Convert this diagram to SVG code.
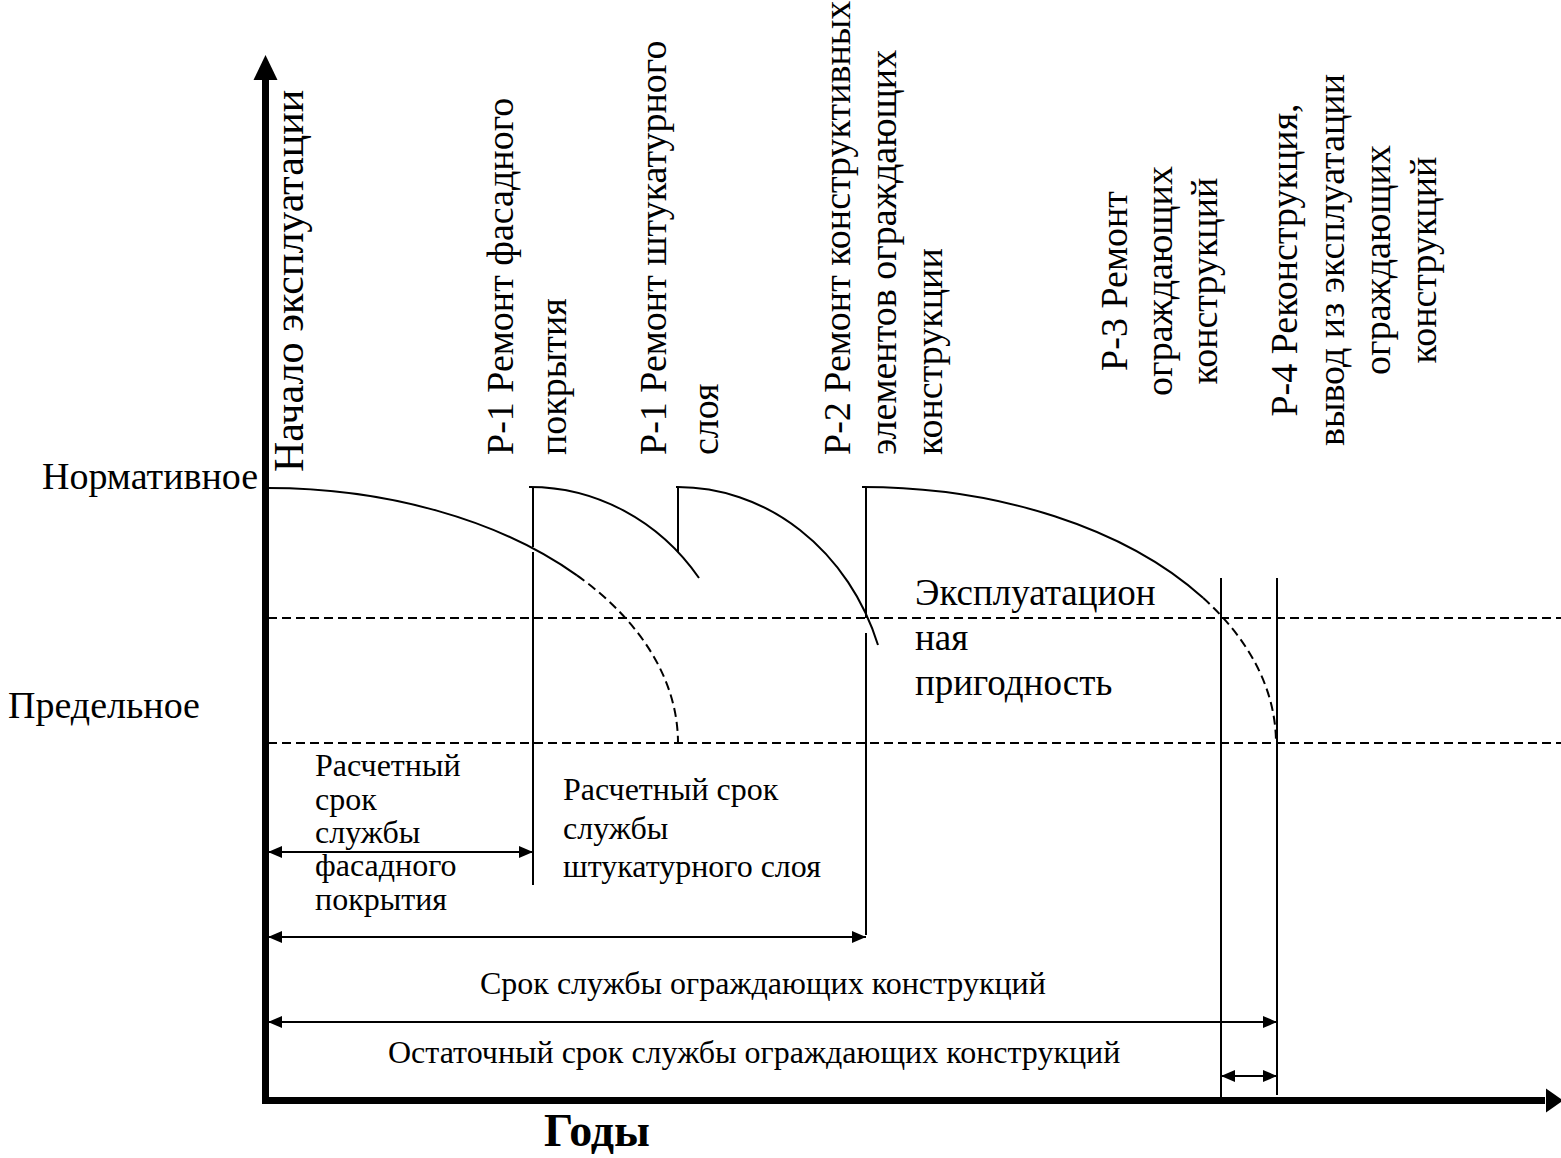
<svg xmlns="http://www.w3.org/2000/svg" width="1561" height="1158" viewBox="0 0 1561 1158">
<defs>
<style>
.t{font-family:"Liberation Serif","Times New Roman",serif;fill:#000}
.lbl{font-size:38px}
.big{font-size:42px}
.sm{font-size:32px}
.ln{stroke:#000;stroke-width:2;fill:none}
.dash{stroke:#000;stroke-width:2;fill:none;stroke-dasharray:9 5}
.axis{stroke:#000;stroke-width:7;fill:none}
.dim{stroke:#000;stroke-width:2;fill:none;marker-start:url(#ah);marker-end:url(#ah)}
</style>
<marker id="ah" viewBox="0 0 14 12" refX="14" refY="6" markerWidth="14" markerHeight="12" markerUnits="userSpaceOnUse" orient="auto-start-reverse">
<path d="M0,0 L14,6 L0,12 Z" fill="#000"/>
</marker>
</defs>
<rect width="1561" height="1158" fill="#fff"/>

<g id="axes">
<line class="axis" x1="265.5" y1="1103" x2="265.5" y2="76"/>
<path d="M265.5,55 L277.5,80 L253.5,80 Z" fill="#000"/>
<line class="axis" x1="262" y1="1100.5" x2="1545" y2="1100.5"/>
<path d="M1563,1100.5 L1546,1088.5 L1546,1112.5 Z" fill="#000"/>
</g>

<g id="levels">
<line class="dash" x1="268" y1="618" x2="1561" y2="618"/>
<line class="dash" x1="268" y1="743" x2="1561" y2="743"/>
</g>

<g id="curves">
<path class="ln" d="M266,488 A410 255 0 0 1 577,575.4"/>
<path class="dash" d="M577,575.4 A410 255 0 0 1 678,743"/>
<path class="ln" d="M529,487 A210 223 0 0 1 699,578"/>
<path class="ln" d="M676,487 A212 235 0 0 1 878,645"/>
<path class="ln" d="M862,487 A413 256 0 0 1 1203,597.8"/>
<path class="dash" d="M1203,597.8 A413 256 0 0 1 1276,743"/>
</g>

<g id="verticals">
<line class="ln" x1="533" y1="487" x2="533" y2="547"/>
<line class="ln" x1="533" y1="552" x2="533" y2="885"/>
<line class="ln" x1="678" y1="487" x2="678" y2="552"/>
<line class="ln" x1="866" y1="487" x2="866" y2="618"/>
<line class="ln" x1="866" y1="633" x2="866" y2="935"/>
<line class="ln" x1="1221" y1="578" x2="1221" y2="1097"/>
<line class="ln" x1="1277" y1="578" x2="1277" y2="1095"/>
</g>

<g id="connectors">
<line class="dim" x1="268" y1="852" x2="533" y2="852"/>
<line class="dim" x1="268" y1="937" x2="866" y2="937"/>
<line class="dim" x1="268" y1="1022" x2="1277" y2="1022"/>
<line class="dim" x1="1221" y1="1076" x2="1277" y2="1076"/>
</g>

<g id="y-labels">
<text class="t lbl" x="42" y="489">Нормативное</text>
<text class="t lbl" x="8" y="718">Предельное</text>
</g>

<g id="event-labels">
<text class="t big" transform="translate(303,472) rotate(-90)">Начало эксплуатации</text>
<text class="t lbl" transform="translate(513,455) rotate(-90)"><tspan x="0" y="0">Р-1 Ремонт фасадного</tspan><tspan x="0" y="53">покрытия</tspan></text>
<text class="t lbl" transform="translate(666,455) rotate(-90)"><tspan x="0" y="0">Р-1 Ремонт штукатурного</tspan><tspan x="0" y="52">слоя</tspan></text>
<text class="t lbl" transform="translate(850,455) rotate(-90)"><tspan x="0" y="0">Р-2 Ремонт конструктивных</tspan><tspan x="0" y="46">элементов ограждающих</tspan><tspan x="0" y="92">конструкции</tspan></text>
<text class="t lbl" text-anchor="middle" transform="translate(1127,281) rotate(-90)"><tspan x="0" y="0">Р-3 Ремонт</tspan><tspan x="0" y="45">ограждающих</tspan><tspan x="0" y="90">конструкций</tspan></text>
<text class="t lbl" text-anchor="middle" transform="translate(1297,260) rotate(-90)"><tspan x="0" y="0">Р-4 Реконструкция,</tspan><tspan x="0" y="47">вывод из эксплуатации</tspan><tspan x="0" y="93">ограждающих</tspan><tspan x="0" y="139">конструкций</tspan></text>
</g>

<g id="zone-label">
<text class="t" font-size="37" x="915" y="605"><tspan x="915" y="605">Эксплуатацион</tspan><tspan x="915" y="650">ная</tspan><tspan x="915" y="695">пригодность</tspan></text>
</g>

<g id="duration-labels">
<text class="t sm" x="315" y="776"><tspan x="315" y="776">Расчетный</tspan><tspan x="315" y="810">срок</tspan><tspan x="315" y="843">службы</tspan><tspan x="315" y="876">фасадного</tspan><tspan x="315" y="910">покрытия</tspan></text>
<text class="t sm" x="563" y="800"><tspan x="563" y="800">Расчетный срок</tspan><tspan x="563" y="839">службы</tspan><tspan x="563" y="877">штукатурного слоя</tspan></text>
<text class="t sm" x="480" y="994">Срок службы ограждающих конструкций</text>
<text class="t sm" x="388" y="1063">Остаточный срок службы ограждающих конструкций</text>
<text class="t" x="597" y="1146" font-size="46" font-weight="bold" text-anchor="middle">Годы</text>
</g>
</svg>
